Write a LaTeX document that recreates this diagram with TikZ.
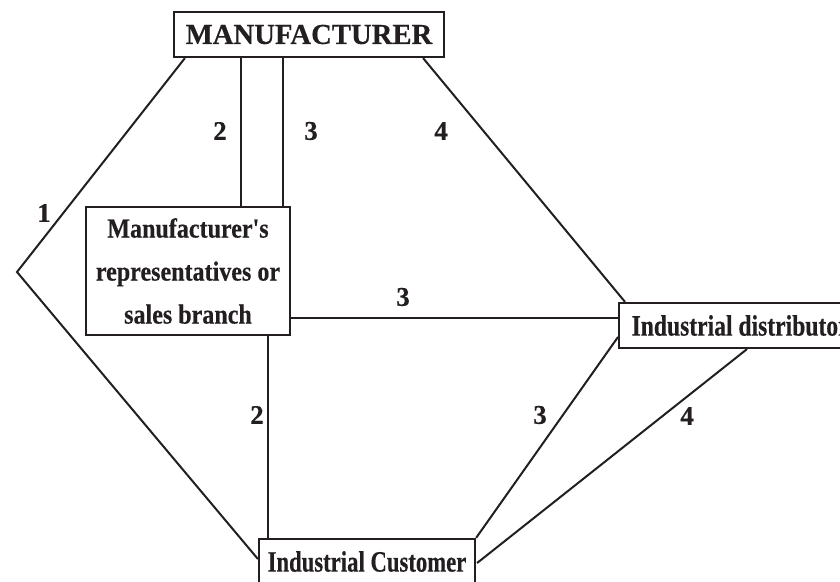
\documentclass[tikz,border=0pt]{standalone}
\usepackage{fontspec}
\setmainfont{Liberation Serif}
\newfontfamily\mfrfont[FakeStretch=0.99,FakeBold=0.4]{Liberation Serif}
\newfontfamily\repfont[FakeStretch=0.875,FakeBold=0.4]{Liberation Serif}
\newfontfamily\custfont[FakeStretch=0.77,FakeBold=0.4]{Liberation Serif}
\newfontfamily\distfont[FakeStretch=0.8,FakeBold=0.4]{Liberation Serif}
\newfontfamily\numfont[FakeBold=0.4]{Liberation Serif}
\usetikzlibrary{calc}
\definecolor{ink}{RGB}{35,31,32}
\begin{document}
\begin{tikzpicture}[x=1pt,y=-1pt,
  box/.style={draw=ink, line width=2.2pt, inner sep=0pt, text=ink, align=center},
  conn/.style={draw=ink, line width=2pt},
  num/.style={text=ink, inner sep=0pt, font=\numfont\fontsize{27}{30}\selectfont\bfseries}]
\useasboundingbox (0,0) rectangle (840,581);
\clip (0,0) rectangle (840,581);
\node[box, minimum width=270pt, minimum height=45pt,
      font=\mfrfont\fontsize{29}{32}\selectfont\bfseries] (mfr) at (309,34.5) {MANUFACTURER};
\node[box, minimum width=204pt, minimum height=128pt,
      font=\repfont\fontsize{27.5}{43}\selectfont\bfseries] (rep) at (188,271)
      {Manufacturer's\\representatives or\\sales branch};
\node[box, minimum width=240pt, minimum height=45pt, anchor=west,
      font=\distfont\fontsize{29.5}{32}\selectfont\bfseries] (dist) at (618,325.5)
      {\hspace{10pt}Industrial distributor\hspace{8pt}};
\node[box, minimum width=216pt, minimum height=45pt,
      font=\custfont\fontsize{29.5}{32}\selectfont\bfseries] (cust) at (367,561.5)
      {Industrial Customer};
\coordinate (bend) at (17,272);
\coordinate (m2) at ($(mfr.south west)+(68,0)$);
\coordinate (m3) at ($(mfr.south west)+(110,0)$);
\coordinate (m4) at ($(mfr.south east)+(-22,0)$);
\coordinate (r2) at ($(rep.south east)+(-23,0)$);
\coordinate (dh) at ($(dist.west)+(0,-7.5)$);
\coordinate (dl) at ($(dist.west)+(0,11.5)$);
\coordinate (ds) at ($(dist.south west)+(129,0)$);
% 1
\draw[conn] ($(mfr.south west)+(12,0)$) -- (bend) -- ($(cust.west)+(0,-2.5)$);
% 2 (upper) and 3 (upper)
\draw[conn] (m2) -- (m2 |- rep.north);
\draw[conn] (m3) -- (m3 |- rep.north);
% 4 (upper)
\draw[conn] (m4) -- ($(dist.north west)+(7,0)$);
% 3 (horizontal)
\draw[conn] (dh) -- (rep.east |- dh);
% 2 (lower)
\draw[conn] (r2) -- (r2 |- cust.north);
% 3 (lower)
\draw[conn] (cust.north east) -- (dl);
% 4 (lower)
\draw[conn] ($(cust.east)+(1,1.5)$) -- (ds);
% labels
\node[num] (l1) at (44,213) {1};
\node[num] (l2a) at (220,131) {2};
\node[num] (l3a) at (311,131) {3};
\node[num] (l4a) at (441,131) {4};
\node[num] (l3b) at (403,297) {3};
\node[num] (l2b) at (257,415) {2};
\node[num] (l3c) at (540,415) {3};
\node[num] (l4b) at (687,416) {4};
\end{tikzpicture}
\end{document}
